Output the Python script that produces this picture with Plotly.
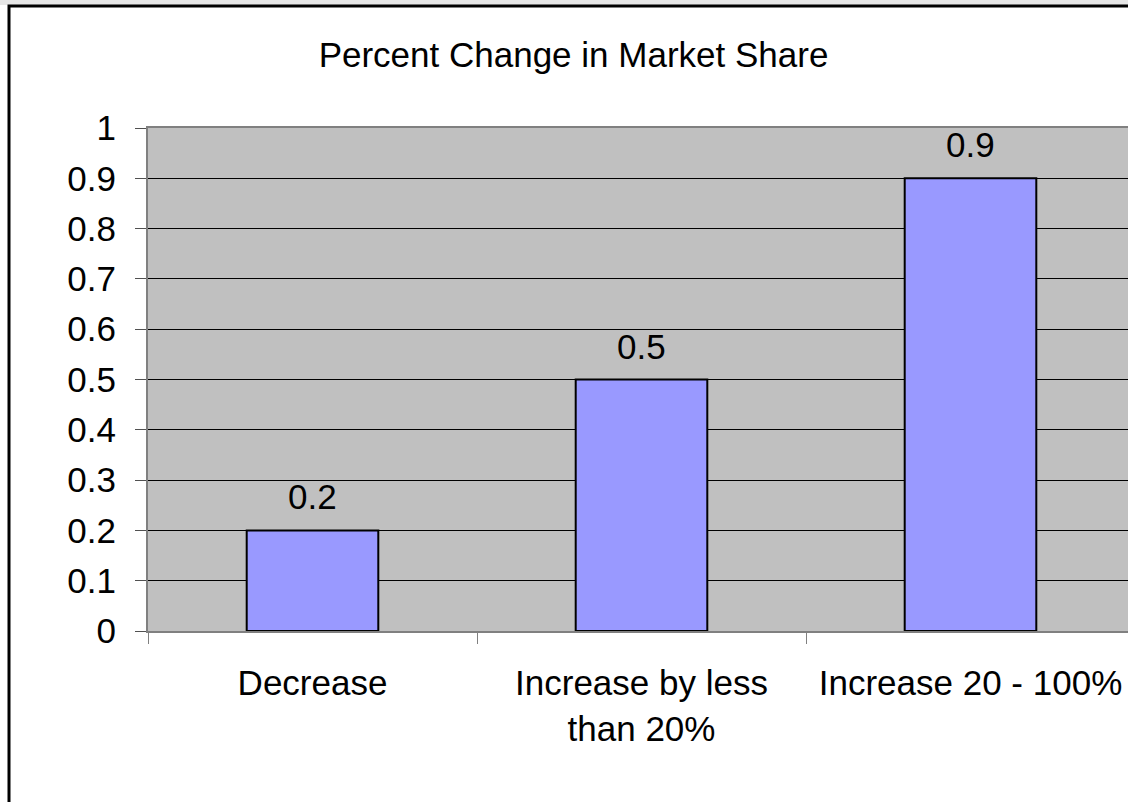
import plotly.graph_objects as go

categories = ["Decrease", "Increase by less<br>than 20%", "Increase 20 - 100%"]
values = [0.2, 0.5, 0.9]
value_labels = ["0.2", "0.5", "0.9"]
y_ticks = [0, 0.1, 0.2, 0.3, 0.4, 0.5, 0.6, 0.7, 0.8, 0.9, 1]
y_tick_labels = ["0", "0.1", "0.2", "0.3", "0.4", "0.5", "0.6", "0.7", "0.8", "0.9", "1"]

FONT = "Arial, 'Liberation Sans', sans-serif"
W, H = 1128, 802
L, T, B = 148, 128, 171
PW = W - L
PH = H - T - B

fig = go.Figure()
fig.add_trace(go.Bar(
    x=categories, y=values, width=0.4,
    marker=dict(color="#9999FF", line=dict(color="black", width=2)),
    hoverinfo="skip",
))

for c, v, t in zip(categories, values, value_labels):
    fig.add_annotation(x=c, y=v, text=t, showarrow=False, yanchor="bottom",
                       yshift=12, font=dict(family=FONT, size=35, color="black"))

# outer chart border (left/top visible) and light strip on top
fig.add_shape(type="rect", xref="paper", yref="paper",
              x0=-L / PW, x1=1.2, y0=1 + T / PH, y1=1 + (T - 5) / PH,
              fillcolor="#E6E6E6", line=dict(width=0), layer="below")
fig.add_shape(type="rect", xref="paper", yref="paper",
              x0=(9 - L) / PW, x1=1.2, y0=-1.0, y1=1 + (T - 6) / PH,
              line=dict(color="black", width=3), fillcolor="rgba(0,0,0,0)")

fig.update_layout(
    width=W, height=H,
    margin=dict(l=L, r=0, t=T, b=B, pad=0),
    paper_bgcolor="white",
    plot_bgcolor="#C0C0C0",
    showlegend=False,
    bargap=0.6,
    font=dict(family=FONT, size=35, color="black"),
    title=dict(text="Percent Change in Market Share", xref="container", yref="container",
               x=573.5 / W, xanchor="center", y=1 - 55 / H, yanchor="middle",
               font=dict(family=FONT, size=35, color="black")),
    xaxis=dict(
        type="category",
        range=[-0.5, 2.5 - 7 / 329],
        tickson="boundaries", ticks="outside", ticklen=11, tickcolor="#808080", tickwidth=1,
        showline=True, linecolor="#808080", linewidth=2, mirror=True,
        showgrid=False, zeroline=False, ticklabelstandoff=20,
        tickfont=dict(family=FONT, size=35, color="black"),
    ),
    yaxis=dict(
        range=[0, 1], tickmode="array", tickvals=y_ticks, ticktext=y_tick_labels,
        ticks="outside", ticklen=11, tickcolor="#505050", tickwidth=1,
        showline=True, linecolor="#808080", linewidth=2,
        showgrid=True, gridcolor="black", gridwidth=1, zeroline=False,
        ticklabelstandoff=12,
        tickfont=dict(family=FONT, size=35, color="black"),
    ),
)

fig.write_html("out.html", config={"displayModeBar": False},
               post_script="document.body.style.margin='0';")
